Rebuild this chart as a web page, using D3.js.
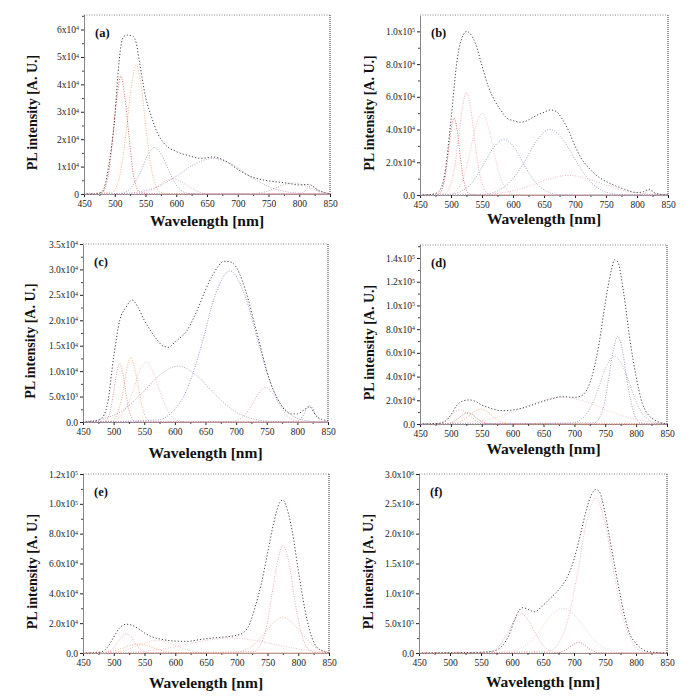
<!DOCTYPE html>
<html>
<head>
<meta charset="utf-8">
<script src="https://cdn.jsdelivr.net/npm/d3@7"></script>
<style>
html,body{margin:0;padding:0;background:#fff;}
svg{display:block;}
</style>
</head>
<body>
<svg id="chart" width="692" height="696"></svg>
<script>
// ---------------- DATA ----------------
const wavelengthTicks = [450, 500, 550, 600, 650, 700, 750, 800, 850];
const panelLetters = ["(a)", "(b)", "(c)", "(d)", "(e)", "(f)"];
const xTitle = "Wavelength [nm]";
const yTitle = "PL intensity [A. U.]";

// Panel (a): values in units of 1e4
const aYMax = 6.53;
const aYTicks = [0, 1, 2, 3, 4, 5, 6];
const aYLabels = ["0", "1x10^4", "2x10^4", "3x10^4", "4x10^4", "5x10^4", "6x10^4"];
const aTotal = [[450,0],[470,0],[480,0.1],[490,1.0],[500,2.8],[505,4.3],[510,5.4],[515,5.75],[520,5.8],[530,5.75],[535,5.5],[540,4.85],[550,3.55],[560,2.8],[570,2.2],[580,1.85],[600,1.55],[620,1.4],[640,1.3],[660,1.35],[670,1.3],[680,1.2],[700,0.9],[720,0.65],[740,0.52],[760,0.45],[780,0.4],[800,0.33],[815,0.35],[830,0.15],[850,0]];
const aC1 = [[450,0],[480,0.06],[485,0.27],[491,0.9],[497,2.15],[504,3.6],[510,4.3],[516,3.6],[523,2.15],[529,0.9],[535,0.27],[541,0.06],[560,0],[850,0]];
const aC2 = [[450,0],[495,0.06],[503,0.29],[511,0.99],[519,2.35],[527,3.95],[535,4.7],[543,3.95],[551,2.35],[559,0.99],[567,0.29],[575,0.06],[595,0],[850,0]];
const aC3 = [[450,0],[509,0.02],[520,0.1],[531,0.36],[543,0.85],[554,1.43],[565,1.7],[576,1.43],[588,0.85],[599,0.36],[610,0.1],[621,0.02],[640,0],[850,0]];
const aC4 = [[450,0],[510,0.02],[540,0.08],[570,0.27],[600,0.65],[630,1.09],[660,1.3],[690,1.09],[720,0.65],[750,0.27],[780,0.08],[810,0.02],[850,0]];
const aC5 = [[450,0],[532,0.01],[545,0.03],[557,0.12],[570,0.28],[582,0.46],[595,0.55],[607,0.46],[620,0.28],[632,0.12],[645,0.03],[657,0.01],[850,0]];
const aC6 = [[450,0],[715,0.005],[730,0.025],[745,0.08],[760,0.2],[775,0.34],[790,0.4],[805,0.34],[820,0.2],[835,0.08],[850,0.025]];
const aC7 = [[450,0],[798,0.004],[802,0.02],[806,0.06],[811,0.15],[815,0.25],[820,0.3],[825,0.25],[829,0.15],[834,0.06],[838,0.02],[842,0.004],[850,0]];

// Panel (b): units of 1e4
const bYMax = 11.0;
const bYTicks = [0, 2, 4, 6, 8, 10];
const bYLabels = ["0.0", "2.0x10^4", "4.0x10^4", "6.0x10^4", "8.0x10^4", "1.0x10^5"];
const bTotal = [[450,0],[470,0.05],[480,0.2],[490,1.3],[500,4.6],[510,8.3],[520,9.8],[525,10.0],[530,9.9],[540,9.2],[550,7.9],[560,6.65],[570,5.8],[580,5.2],[590,4.7],[600,4.55],[610,4.45],[620,4.5],[630,4.7],[640,4.9],[650,5.05],[660,5.2],[670,5.1],[680,4.6],[690,3.9],[700,3.0],[710,2.25],[720,1.75],[730,1.35],[740,1.05],[760,0.65],[780,0.35],[800,0.15],[810,0.2],[820,0.35],[830,0.1],[850,0]];
const bC1 = [[450,0],[480,0.06],[485,0.29],[490,0.99],[495,2.35],[500,3.95],[505,4.7],[510,3.95],[515,2.35],[520,0.99],[525,0.29],[530,0.06],[545,0],[850,0]];
const bC2 = [[450,0],[490,0.08],[497,0.39],[504,1.31],[511,3.12],[518,5.25],[525,6.25],[532,5.25],[539,3.12],[546,1.31],[553,0.39],[560,0.08],[575,0],[850,0]];
const bC3 = [[450,0],[500,0.06],[510,0.31],[520,1.05],[530,2.5],[540,4.2],[550,5.0],[560,4.2],[570,2.5],[580,1.05],[590,0.31],[600,0.06],[620,0],[850,0]];
const bC4 = [[450,0],[498,0.04],[515,0.21],[533,0.71],[550,1.7],[568,2.86],[585,3.4],[603,2.86],[620,1.7],[638,0.71],[655,0.21],[673,0.04],[700,0],[850,0]];
const bC5 = [[450,0],[554,0.05],[575,0.25],[596,0.84],[618,2.0],[639,3.36],[660,4.0],[681,3.36],[703,2.0],[724,0.84],[745,0.25],[766,0.05],[790,0],[850,0]];
const bC6 = [[450,0],[540,0.02],[570,0.08],[600,0.25],[630,0.6],[660,1.0],[690,1.2],[720,1.0],[750,0.6],[780,0.25],[810,0.08],[840,0.02],[850,0]];
const bC7 = [[450,0],[800,0],[806,0.02],[810,0.06],[814,0.15],[817,0.25],[820,0.3],[823,0.25],[826,0.15],[830,0.06],[834,0.02],[850,0]];

// Panel (c): units of 1e4
const cYMax = 3.5;
const cYTicks = [0, 0.5, 1, 1.5, 2, 2.5, 3, 3.5];
const cYLabels = ["0.0", "5.0x10^3", "1.0x10^4", "1.5x10^4", "2.0x10^4", "2.5x10^4", "3.0x10^4", "3.5x10^4"];
const cTotal = [[450,0],[470,0.02],[480,0.07],[490,0.36],[500,1.27],[510,2.0],[520,2.25],[530,2.4],[540,2.25],[550,2.0],[560,1.8],[570,1.63],[580,1.5],[590,1.47],[600,1.57],[610,1.67],[620,1.8],[630,2.03],[640,2.3],[650,2.6],[660,2.85],[670,3.05],[680,3.16],[690,3.15],[700,3.05],[710,2.78],[720,2.4],[730,1.93],[740,1.47],[750,1.0],[760,0.65],[770,0.4],[780,0.23],[790,0.16],[800,0.16],[810,0.23],[820,0.3],[830,0.13],[840,0.05],[850,0.03]];
const cC1 = [[450,0],[485,0.015],[490,0.07],[495,0.24],[500,0.58],[505,0.97],[510,1.15],[515,0.97],[520,0.58],[525,0.24],[530,0.07],[535,0.015],[550,0],[850,0]];
const cC2 = [[450,0],[497,0.02],[503,0.08],[509,0.27],[516,0.64],[522,1.07],[528,1.27],[534,1.07],[541,0.64],[547,0.27],[553,0.08],[559,0.02],[575,0],[850,0]];
const cC3 = [[450,0],[497,0.015],[508,0.07],[519,0.25],[531,0.59],[542,0.99],[553,1.18],[564,0.99],[576,0.59],[587,0.25],[598,0.07],[609,0.015],[630,0],[850,0]];
const cC4 = [[450,0.005],[455,0.014],[485,0.07],[515,0.23],[545,0.55],[575,0.92],[605,1.1],[635,0.92],[665,0.55],[695,0.23],[725,0.07],[755,0.014],[790,0],[850,0]];
const cC5 = [[450,0],[571,0.04],[595,0.19],[619,0.62],[643,1.49],[666,2.5],[690,2.97],[714,2.5],[738,1.49],[761,0.62],[785,0.19],[809,0.04],[835,0],[850,0]];
const cC6 = [[450,0],[692,0.01],[703,0.04],[714,0.14],[726,0.34],[737,0.57],[748,0.68],[759,0.57],[771,0.34],[782,0.14],[793,0.04],[804,0.01],[825,0],[850,0]];
const cC7 = [[450,0],[798,0.005],[802,0.02],[806,0.07],[811,0.16],[815,0.27],[820,0.32],[825,0.27],[829,0.16],[834,0.07],[838,0.02],[842,0.005],[850,0]];

// Panel (d): units of 1e4
const dYMax = 15.1;
const dYTicks = [0, 2, 4, 6, 8, 10, 12, 14];
const dYLabels = ["0.0", "2.0x10^4", "4.0x10^4", "6.0x10^4", "8.0x10^4", "1.0x10^5", "1.2x10^5", "1.4x10^5"];
const dTotal = [[450,0],[480,0.05],[490,0.2],[500,0.76],[510,1.6],[520,1.95],[530,2.03],[540,1.9],[550,1.6],[560,1.4],[570,1.24],[580,1.13],[590,1.13],[600,1.18],[620,1.4],[640,1.75],[660,2.08],[680,2.3],[700,2.25],[710,2.35],[720,2.87],[730,4.3],[740,6.8],[750,10.2],[760,13.0],[765,13.85],[770,13.7],[780,11.0],[790,7.1],[800,4.0],[810,1.75],[820,0.76],[830,0.34],[840,0.1],[850,0]];
const dC1 = [[450,0],[471,0.015],[480,0.07],[489,0.25],[498,0.6],[506,1.0],[515,1.2],[524,1.0],[533,0.6],[541,0.25],[550,0.07],[559,0.015],[580,0],[850,0]];
const dC2 = [[450,0],[490,0.015],[497,0.06],[505,0.2],[512,0.48],[520,0.8],[527,0.95],[535,0.8],[542,0.48],[550,0.2],[557,0.06],[565,0.015],[580,0],[850,0]];
const dC3 = [[450,0],[498,0.02],[508,0.08],[518,0.27],[528,0.64],[538,1.07],[548,1.27],[558,1.07],[568,0.64],[578,0.27],[588,0.08],[598,0.02],[620,0],[850,0]];
const dC4 = [[450,0],[493,0.03],[530,0.14],[568,0.47],[605,1.12],[643,1.9],[680,2.25],[718,1.9],[755,1.12],[793,0.47],[830,0.14],[850,0.06]];
const dC5 = [[450,0],[696,0.07],[710,0.36],[724,1.2],[738,2.85],[751,4.8],[765,5.7],[779,4.8],[793,2.85],[806,1.2],[820,0.36],[834,0.07],[850,0]];
const dC6 = [[450,0],[733,0.1],[740,0.46],[748,1.55],[755,3.7],[763,6.2],[770,7.4],[778,6.2],[785,3.7],[793,1.55],[800,0.46],[808,0.1],[825,0],[850,0]];

// Panel (e): units of 1e4
const eYMax = 12.0;
const eYTicks = [0, 2, 4, 6, 8, 10, 12];
const eYLabels = ["0.0", "2.0x10^4", "4.0x10^4", "6.0x10^4", "8.0x10^4", "1.0x10^5", "1.2x10^5"];
const eTotal = [[450,0],[470,0.02],[480,0.07],[490,0.4],[500,1.07],[510,1.7],[520,1.93],[530,1.86],[540,1.63],[550,1.34],[560,1.12],[580,0.9],[600,0.8],[620,0.78],[640,0.9],[660,1.0],[680,1.07],[700,1.19],[710,1.34],[720,1.86],[730,3.1],[740,4.66],[750,6.67],[760,8.7],[770,10.1],[775,10.26],[780,9.9],[790,8.2],[800,5.55],[810,3.1],[820,1.3],[830,0.4],[840,0.13],[850,0]];
const eC1 = [[450,0],[483,0.02],[490,0.08],[498,0.27],[505,0.65],[513,1.09],[520,1.3],[528,1.09],[535,0.65],[543,0.27],[550,0.08],[558,0.02],[575,0],[850,0]];
const eC2 = [[450,0],[471,0.01],[485,0.04],[499,0.13],[513,0.3],[526,0.5],[540,0.6],[554,0.5],[568,0.3],[581,0.13],[595,0.04],[609,0.01],[630,0],[850,0]];
const eC3 = [[450,0],[483,0.01],[500,0.05],[518,0.18],[535,0.43],[553,0.71],[570,0.85],[588,0.71],[605,0.43],[623,0.18],[640,0.05],[658,0.01],[680,0],[850,0]];
const eC4 = [[450,0],[490,0.01],[530,0.06],[570,0.21],[610,0.5],[650,0.84],[690,1.0],[730,0.84],[770,0.5],[810,0.21],[850,0.06]];
const eC5 = [[450,0],[728,0.09],[737,0.45],[747,1.51],[756,3.6],[766,6.05],[775,7.2],[785,6.05],[794,3.6],[804,1.51],[813,0.45],[823,0.09],[840,0],[850,0]];
const eC6 = [[450,0],[694,0.03],[710,0.15],[726,0.5],[743,1.2],[759,2.0],[775,2.4],[791,2.0],[808,1.2],[824,0.5],[840,0.15],[850,0.05]];

// Panel (f): units of 1e6
const fYMax = 3.0;
const fYTicks = [0, 0.5, 1, 1.5, 2, 2.5, 3];
const fYLabels = ["0.0", "5.0x10^5", "1.0x10^6", "1.5x10^6", "2.0x10^6", "2.5x10^6", "3.0x10^6"];
const fTotal = [[450,0],[500,0.005],[540,0.01],[560,0.02],[569,0.03],[585,0.13],[596,0.32],[604,0.55],[612,0.72],[618,0.76],[626,0.73],[637,0.69],[647,0.77],[661,0.91],[677,1.08],[688,1.25],[696,1.44],[704,1.72],[712,2.06],[720,2.4],[728,2.65],[735,2.74],[741,2.7],[749,2.4],[757,1.95],[766,1.44],[774,1.0],[782,0.6],[790,0.32],[800,0.16],[811,0.06],[822,0.02],[850,0]];
const fC1 = [[450,0],[559,0.01],[570,0.04],[581,0.14],[593,0.33],[604,0.55],[615,0.66],[626,0.55],[638,0.33],[649,0.14],[660,0.04],[671,0.01],[690,0],[850,0]];
const fC2 = [[450,0],[588,0.01],[607,0.05],[626,0.16],[645,0.38],[663,0.63],[682,0.75],[701,0.63],[720,0.38],[738,0.16],[757,0.05],[776,0.01],[800,0],[850,0]];
const fC3 = [[450,0],[670,0.003],[677,0.01],[685,0.04],[692,0.09],[700,0.15],[707,0.18],[715,0.15],[722,0.09],[730,0.04],[737,0.01],[745,0.003],[760,0],[850,0]];
const fC4 = [[450,0],[660,0.03],[675,0.16],[690,0.55],[705,1.3],[720,2.18],[735,2.6],[750,2.18],[765,1.3],[780,0.55],[795,0.16],[810,0.03],[830,0],[850,0]];

// ---------------- STYLE / LAYOUT ----------------
const panels = [
  {label: panelLetters[0], total: aTotal, comps: [aC1, aC2, aC3, aC4, aC5, aC6, aC7], colors: ["#d9534f","#f2a46a","#8d9cc9","#b794c6","#eeaaaa","#aaaaaa","#d79ac0"], yMax: aYMax, yTicks: aYTicks, yLabels: aYLabels,
   box: {l: 84, r: 330, t: 15, b: 194, ytx: 32, xty: 226}},
  {label: panelLetters[1], total: bTotal, comps: [bC1, bC2, bC3, bC4, bC5, bC6, bC7], colors: ["#d9534f","#eea0a8","#f0b8b0","#8d9cc9","#9a94d0","#e8b0b8","#aaaaaa"], yMax: bYMax, yTicks: bYTicks, yLabels: bYLabels,
   box: {l: 420, r: 668, t: 15, b: 195, ytx: 369, xty: 224}},
  {label: panelLetters[2], total: cTotal, comps: [cC1, cC2, cC3, cC4, cC5, cC6, cC7], colors: ["#e08890","#f2a46a","#f0b8b0","#a890b0","#8a8ad0","#e89aa8","#9a80c0"], yMax: cYMax, yTicks: cYTicks, yLabels: cYLabels,
   box: {l: 83, r: 328, t: 244, b: 422, ytx: 30, xty: 458}},
  {label: panelLetters[3], total: dTotal, comps: [dC1, dC2, dC3, dC4, dC5, dC6], colors: ["#eea0a8","#c0504d","#f2a46a","#f0c0c0","#b0a0b0","#9a88c0"], yMax: dYMax, yTicks: dYTicks, yLabels: dYLabels,
   box: {l: 420, r: 667, t: 245, b: 424, ytx: 369, xty: 454}},
  {label: panelLetters[4], total: eTotal, comps: [eC1, eC2, eC3, eC4, eC5, eC6], colors: ["#eea0a8","#f2a46a","#f0c0b8","#e8b8c0","#e898a8","#e8a890"], yMax: eYMax, yTicks: eYTicks, yLabels: eYLabels,
   box: {l: 83, r: 329, t: 474, b: 653, ytx: 32, xty: 688}},
  {label: panelLetters[5], total: fTotal, comps: [fC1, fC2, fC3, fC4], colors: ["#e8a0a0","#f0c0c0","#d07070","#eeaab0"], yMax: fYMax, yTicks: fYTicks, yLabels: fYLabels,
   box: {l: 419, r: 667, t: 474, b: 653, ytx: 368, xty: 687}}
];

const FONT = "'Liberation Serif', 'Times New Roman', 'DejaVu Serif', serif";
const svg = d3.select("#chart");

function writeSci(textSel, str) {
  const parts = str.split("^");
  textSel.text(null);
  textSel.append("tspan").text(parts[0]);
  if (parts.length > 1) {
    textSel.append("tspan").attr("dy", "-0.45em").attr("font-size", "6px").text(parts[1]);
  }
}

panels.forEach(p => {
  const B = p.box;
  const x = d3.scaleLinear().domain([450, 850]).range([B.l, B.r]);
  const y = d3.scaleLinear().domain([0, p.yMax]).range([B.b, B.t]);
  const g = svg.append("g");

  // frame top & right
  g.append("line").attr("x1", B.l).attr("x2", B.r).attr("y1", B.t).attr("y2", B.t)
    .attr("stroke", "#888").attr("stroke-width", 1).attr("stroke-dasharray", "1,1.5");
  g.append("line").attr("x1", B.r).attr("x2", B.r).attr("y1", B.t).attr("y2", B.b)
    .attr("stroke", "#333").attr("stroke-width", 1).attr("stroke-dasharray", "1,1");

  // minor ticks
  const xMinor = d3.range(475, 850, 50);
  g.append("g").attr("transform", `translate(0,${B.b})`)
    .call(d3.axisBottom(x).tickValues(xMinor).tickSize(2).tickFormat(""))
    .call(s => s.select(".domain").remove())
    .selectAll("line").attr("stroke", "#444");
  const yStep = p.yTicks[1] - p.yTicks[0];
  const yMinor = p.yTicks.map(v => v + yStep / 2).filter(v => v < p.yMax);
  g.append("g").attr("transform", `translate(${B.l},0)`)
    .call(d3.axisLeft(y).tickValues(yMinor).tickSize(2).tickFormat(""))
    .call(s => s.select(".domain").remove())
    .selectAll("line").attr("stroke", "#444");

  // x axis
  const xa = g.append("g").attr("transform", `translate(0,${B.b})`)
    .call(d3.axisBottom(x).tickValues(wavelengthTicks).tickSize(3).tickPadding(3).tickSizeOuter(0));
  xa.select(".domain").attr("stroke", "#111").attr("stroke-dasharray", "1,1");
  xa.selectAll(".tick line").attr("stroke", "#222");
  xa.selectAll(".tick text").attr("font-family", FONT).attr("font-size", "9.5px").attr("fill", "#222");

  // y axis
  const ya = g.append("g").attr("transform", `translate(${B.l},0)`)
    .call(d3.axisLeft(y).tickValues(p.yTicks).tickSize(3).tickPadding(2).tickSizeOuter(0).tickFormat((d, i) => p.yLabels[i]));
  ya.select(".domain").attr("stroke", "#111").attr("stroke-dasharray", "1,1");
  ya.selectAll(".tick line").attr("stroke", "#222");
  ya.selectAll(".tick text").attr("font-family", FONT).attr("font-size", "9.5px").attr("fill", "#222")
    .each(function(d, i) { writeSci(d3.select(this), p.yLabels[i]); });

  // curves
  const line = d3.line().x(d => x(d[0])).y(d => y(d[1])).curve(d3.curveMonotoneX);
  p.comps.forEach((c, i) => {
    g.append("path").datum(c).attr("d", line).attr("fill", "none")
      .attr("stroke", p.colors[i % p.colors.length]).attr("stroke-width", 1)
      .attr("stroke-dasharray", "1,1.5").attr("opacity", 0.85);
  });
  g.append("path").datum(p.total).attr("d", line).attr("fill", "none")
    .attr("stroke", "#444").attr("stroke-width", 1).attr("stroke-dasharray", "1.2,2");

  // panel label
  g.append("text").attr("x", B.l + 11).attr("y", B.t + 22)
    .attr("font-family", FONT).attr("font-weight", "bold").attr("font-size", "12.5px").attr("fill", "#111")
    .text(p.label);

  // axis titles
  g.append("text").attr("x", (B.l + B.r) / 2).attr("y", B.xty).attr("text-anchor", "middle")
    .attr("font-family", FONT).attr("font-weight", "bold").attr("font-size", "15.5px").attr("fill", "#111")
    .text(xTitle);
  const cy = (B.t + B.b) / 2 + 8;
  g.append("text").attr("transform", `translate(${B.ytx + 5},${cy}) rotate(-90)`).attr("text-anchor", "middle")
    .attr("font-family", FONT).attr("font-weight", "bold").attr("font-size", "14px").attr("fill", "#111")
    .text(yTitle);
});
</script>
</body>
</html>
